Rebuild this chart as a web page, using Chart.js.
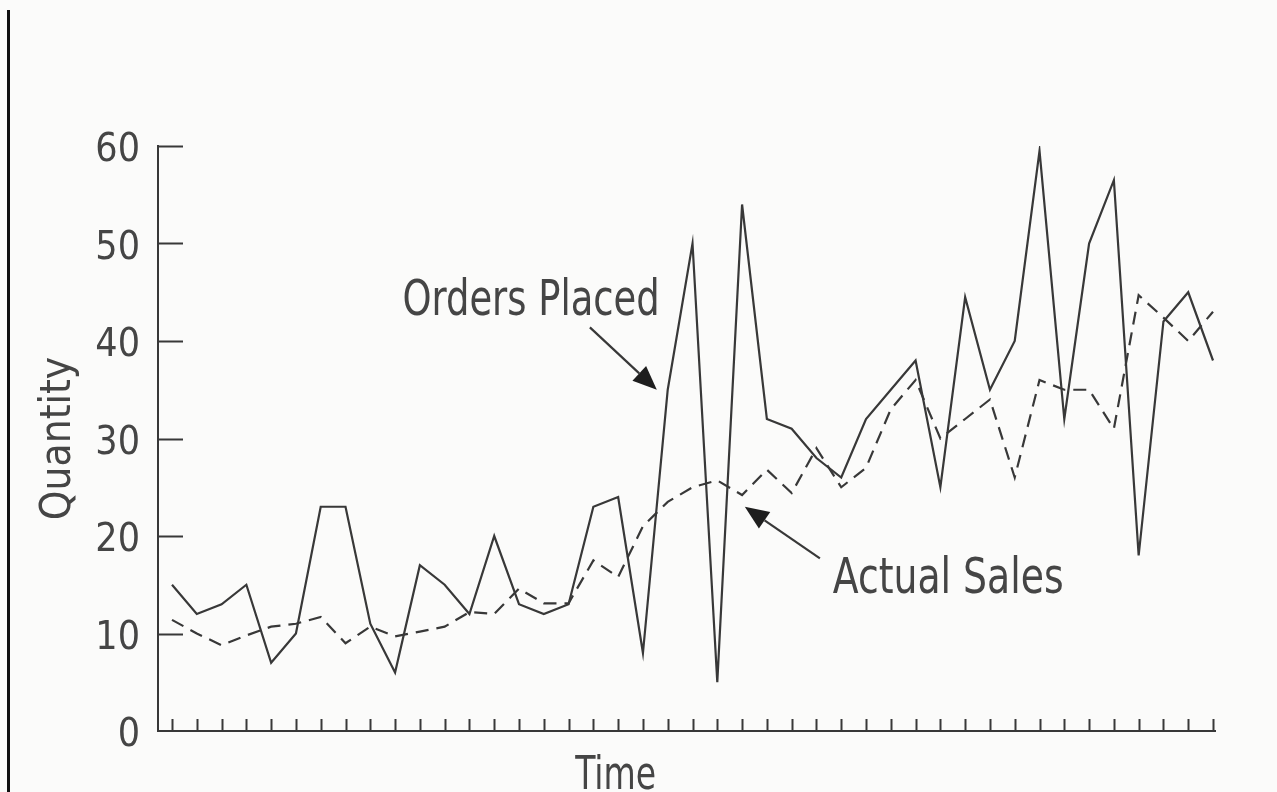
<!DOCTYPE html>
<html>
<head>
<meta charset="utf-8">
<title>Orders Placed vs Actual Sales</title>
<script src="https://cdn.jsdelivr.net/npm/chart.js@4.4.1/dist/chart.umd.min.js"></script>
<style>
    html, body { margin: 0; padding: 0; background: #fbfbfa; }
    #wrap { position: relative; width: 1277px; height: 792px; overflow: hidden; }
    #edge { position: absolute; left: 7px; top: 10px; width: 3px; height: 782px; background: #111; }
    #qtyChart { position: absolute; left: 0; top: 0; }
</style>
</head>
<body>
<div id="wrap">
    <div id="edge"></div>
    <canvas id="qtyChart" width="1277" height="792"></canvas>
</div>

<script>
/* =========================================
   DATA
   ========================================= */
const periods = [1, 2, 3, 4, 5, 6, 7, 8, 9, 10, 11, 12, 13, 14, 15, 16, 17, 18, 19, 20, 21, 22,
                 23, 24, 25, 26, 27, 28, 29, 30, 31, 32, 33, 34, 35, 36, 37, 38, 39, 40, 41, 42, 43];

const ordersPlaced = [15, 12, 13, 15, 7, 10, 23, 23, 11, 6,
                      17, 15, 12, 20, 13, 12, 13, 23, 24, 8,
                      35, 50, 5, 54, 32, 31, 28, 26, 32, 35,
                      38, 25, 44.5, 35, 40, 59.5, 32, 50, 56.5, 18,
                      42, 45, 38];

const actualSales = [11.4, 10, 8.8, 9.8, 10.7, 11, 11.7, 9, 10.7, 9.7,
                     10.2, 10.7, 12.2, 12, 14.6, 13.1, 13.1, 17.5, 15.8, 21,
                     23.5, 25, 25.7, 24.2, 26.8, 24.4, 29, 25, 27, 33,
                     36, 30, 32, 34, 26, 36, 35, 35, 31, 44.7,
                     42.4, 40, 43];

const yTickValues = [0, 10, 20, 30, 40, 50, 60];

const xTitle = 'Time';
const yTitle = 'Quantity';
const ordersLabel = 'Orders Placed';
const salesLabel = 'Actual Sales';

// --- 1. STYLE ---
const INK = '#383838';
const TEXT = '#454545';
const FONT = "'Liberation Sans Narrow', 'DejaVu Sans Condensed', 'Arial Narrow', sans-serif";

// narrow the glyphs a bit (the original uses a condensed grotesque)
function condensedText(ctx, str, x, y, squeeze) {
    ctx.save();
    ctx.translate(x, y);
    ctx.scale(squeeze, 1);
    ctx.fillText(str, 0, 0);
    ctx.restore();
}

// --- 2. PLUGIN: inward ticks, titles, callouts ---
const paperDecor = {
    id: 'paperDecor',
    beforeDatasetsDraw(chart) {
        const { ctx, chartArea: area, scales: { x, y } } = chart;
        ctx.save();
        ctx.strokeStyle = INK;
        ctx.lineWidth = 2;
        ctx.beginPath();
        // y ticks point into the plot
        yTickValues.forEach(v => {
            if (v === 0) return;
            const py = Math.round(y.getPixelForValue(v)) + 0.5;
            ctx.moveTo(area.left, py);
            ctx.lineTo(area.left + 25, py);
        });
        // x ticks point up
        periods.forEach(p => {
            const px = Math.round(x.getPixelForValue(p)) + 0.5;
            ctx.moveTo(px, area.bottom);
            ctx.lineTo(px, area.bottom - 12);
        });
        ctx.stroke();
        ctx.restore();
    },
    afterDraw(chart) {
        const { ctx, chartArea: area, scales: { x, y } } = chart;
        const X = v => x.getPixelForValue(v);
        const Y = v => y.getPixelForValue(v);

        ctx.save();
        ctx.fillStyle = TEXT;
        ctx.textBaseline = 'alphabetic';

        // axis titles
        ctx.font = `46px ${FONT}`;
        ctx.textAlign = 'center';
        condensedText(ctx, xTitle, X(18.9), area.bottom + 58, 0.8);

        ctx.font = `42px ${FONT}`;
        ctx.save();
        ctx.translate(area.left - 88, Y(30));
        ctx.rotate(-Math.PI / 2);
        ctx.fillText(yTitle, 0, 0);
        ctx.restore();

        // callout labels
        ctx.font = `50px ${FONT}`;
        ctx.textAlign = 'left';
        condensedText(ctx, ordersLabel, X(10.3), Y(42.7), 0.82);
        condensedText(ctx, salesLabel, X(27.66), Y(14.15), 0.84);

        // arrows
        const arrow = (x1, y1, x2, y2) => {
            const ang = Math.atan2(y2 - y1, x2 - x1);
            const len = 24, half = 10;
            const bx = x2 - len * Math.cos(ang), by = y2 - len * Math.sin(ang);
            ctx.strokeStyle = INK;
            ctx.lineWidth = 2.2;
            ctx.beginPath();
            ctx.moveTo(x1, y1);
            ctx.lineTo(bx, by);
            ctx.stroke();
            ctx.fillStyle = '#1e1e1e';
            ctx.beginPath();
            ctx.moveTo(x2, y2);
            ctx.lineTo(bx + half * Math.sin(ang), by - half * Math.cos(ang));
            ctx.lineTo(bx - half * Math.sin(ang), by + half * Math.cos(ang));
            ctx.closePath();
            ctx.fill();
        };
        arrow(X(17.86), Y(41.4), X(20.56), Y(35.0));
        arrow(X(27.14), Y(17.7), X(24.11), Y(23.0));

        ctx.restore();
    }
};

// --- 3. RENDER CHART ---
const ctx = document.getElementById('qtyChart');

new Chart(ctx, {
    type: 'line',
    data: {
        datasets: [
            {
                label: ordersLabel,
                data: periods.map((p, i) => ({ x: p, y: ordersPlaced[i] })),
                borderColor: INK,
                borderWidth: 2.2,
                pointRadius: 0,
                tension: 0,
                fill: false
            },
            {
                label: salesLabel,
                data: periods.map((p, i) => ({ x: p, y: actualSales[i] })),
                borderColor: INK,
                borderWidth: 2.2,
                borderDash: [13, 8],
                pointRadius: 0,
                tension: 0,
                fill: false
            }
        ]
    },
    options: {
        responsive: false,
        animation: false,
        layout: { padding: { top: 146, right: 62, left: 0, bottom: 0 } },
        plugins: {
            legend: { display: false },
            tooltip: { enabled: false }
        },
        scales: {
            x: {
                type: 'linear',
                min: 0.435,
                max: 43.08,
                ticks: { display: false },
                grid: { display: true, drawOnChartArea: false, drawTicks: false },
                border: { display: true, color: INK, width: 2 },
                afterFit: (scale) => { scale.height = 61; }
            },
            y: {
                min: 0,
                max: 60,
                afterBuildTicks: (scale) => { scale.ticks = yTickValues.map(v => ({ value: v })); },
                ticks: {
                    padding: 18,
                    labelOffset: 5,
                    color: TEXT,
                    font: { family: FONT, size: 39 }
                },
                grid: { display: true, drawOnChartArea: false, drawTicks: false },
                border: { display: true, color: INK, width: 2 },
                afterFit: (scale) => { scale.width = 158; }
            }
        }
    },
    plugins: [paperDecor]
});
</script>
</body>
</html>
